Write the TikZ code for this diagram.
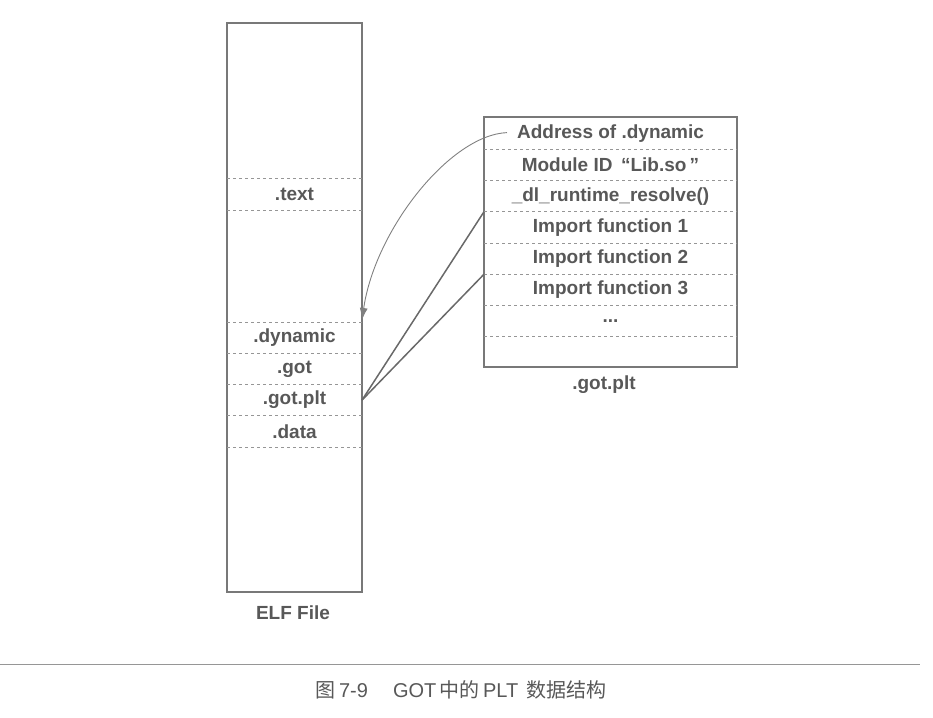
\documentclass[tikz,border=0pt]{standalone}
\usepackage{fontspec}
\setmainfont{Liberation Sans}
\newfontfamily\cjkfont{Noto Sans CJK SC}
\usepackage{xcolor}
\usetikzlibrary{arrows.meta, positioning}
\definecolor{framegray}{RGB}{120,120,120}
\definecolor{dashgray}{RGB}{150,150,150}
\definecolor{textgray}{RGB}{88,88,88}
\definecolor{linkgray}{RGB}{105,105,105}
\newcommand{\cjkpart}[1]{{\cjkfont\fontsize{20}{24}\selectfont #1}}
\tikzset{
  frame/.style={rectangle, draw=framegray, line width=1.3pt, inner sep=0pt},
  sect/.style={rectangle, minimum width=135pt, minimum height=31.25pt,
               inner sep=0pt, outer sep=0pt, text=textgray,
               font=\fontsize{19}{22}\selectfont\bfseries},
  cell/.style={sect, minimum width=253pt},
  sep/.style={dashed, draw=dashgray, line width=0.8pt},
  lbl/.style={text=textgray, font=\fontsize{19}{22}\selectfont\bfseries},
  curvarr/.style={-{Latex[length=12pt, width=8pt]}, draw=linkgray!85, line width=0.9pt},
  link/.style={draw=linkgray, line width=1.5pt}
}
\begin{document}
\begin{tikzpicture}[x=1pt, y=-1pt]
  \useasboundingbox (0,0) rectangle (933,717);

  % ELF file
  \node[frame, minimum width=135pt, minimum height=569pt] (elf) at (294.5,307.5) {};
  \node[sect] (text) at (294.5,194.5) {.text};
  \node[sect] (dyn) at (294.5,337.6) {.dynamic};
  \node[sect, below=0pt of dyn] (got) {.got};
  \node[sect, below=0pt of got] (gp) {.got.plt};
  \node[sect, below=0pt of gp] (data) {.data};
  \draw[sep] (text.north west) -- (text.north east);
  \draw[sep] (text.south west) -- (text.south east);
  \foreach \s in {dyn, got, gp, data}
    \draw[sep] (\s.north west) -- (\s.north east);
  \draw[sep] (data.south west) -- (data.south east);
  \node[lbl] (elflbl) at (293,613) {ELF File};

  % .got.plt table
  \node[frame, minimum width=253pt, minimum height=250pt] (tbl) at (610.5,242) {};
  \node[cell] (addr) at (610.5,133.6) {Address of .dynamic};
  \node[cell, below=0pt of addr] (mod) {Module ID\hspace{0.45em}“Lib.so\,”};
  \node[cell, below=0pt of mod] (res) {\_dl\_runtime\_resolve()};
  \node[cell, below=0pt of res] (imp1) {Import function 1};
  \node[cell, below=0pt of imp1] (imp2) {Import function 2};
  \node[cell, below=0pt of imp2] (imp3) {Import function 3};
  \node[cell, below=0pt of imp3] (more) {...};
  \node[cell, below=0pt of more] (last) {};
  \foreach \s in {mod, res, imp1, imp2, imp3, more, last}
    \draw[sep] (\s.north west) -- (\s.north east);
  \node[lbl] (tbllbl) at (604,385) {.got.plt};

  % links
  \coordinate (addrstart) at ([xshift=23pt, yshift=1pt]addr.west);
  \coordinate (dyntip) at ([yshift=2pt]dyn.north east);
  \draw[curvarr] (addrstart) .. controls (450,135) and (375,230) .. (dyntip);
  \draw[link] (gp.east) -- (imp1.north west);
  \draw[link] (gp.east) -- (imp3.north west);

  % caption
  \coordinate (rulel) at (0,664);
  \coordinate (ruler) at (920,664);
  \draw[draw=dashgray, line width=1pt] (rulel) -- (ruler);
  \node[text=textgray, font=\fontsize{20}{24}\selectfont] (cap) at (461,690)
    {\cjkpart{图}\,7-9\hspace{25pt}GOT\,\cjkpart{中的}\,PLT\hspace{8pt}\cjkpart{数据结构}};

\end{tikzpicture}
\end{document}
